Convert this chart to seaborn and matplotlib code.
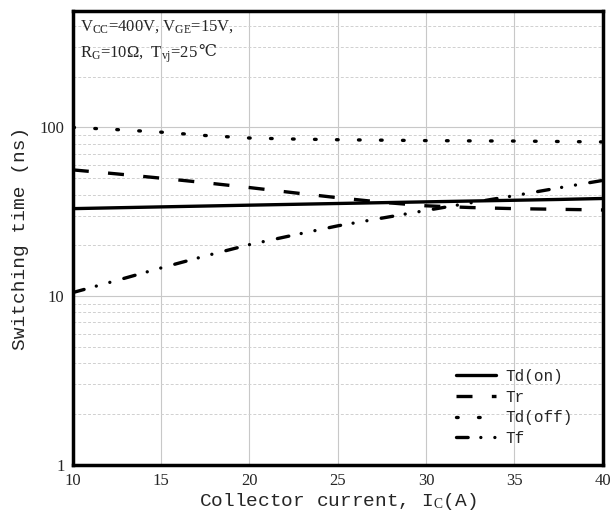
import numpy as np
import pandas as pd
import matplotlib
matplotlib.use("Agg")
import matplotlib.pyplot as plt
from matplotlib.ticker import FixedLocator, LogLocator, NullFormatter
import seaborn as sns

current = [10, 12.5, 15, 17.5, 20, 22.5, 25, 27.5, 30, 32.5, 35, 37.5, 40]
td_on = [33.0, 33.4, 33.8, 34.2, 34.6, 35.0, 35.4, 35.8, 36.2, 36.6, 37.0, 37.4, 37.9]
tr = [56.0, 53.0, 50.0, 47.0, 44.0, 41.0, 38.3, 36.0, 34.3, 33.5, 33.0, 32.7, 32.4]
td_off = [100.0, 97.0, 93.7, 89.5, 86.5, 85.3, 84.5, 84.0, 83.5, 83.2, 83.0, 82.5, 82.0]
tf = [10.5, 12.4, 14.7, 17.3, 20.2, 23.0, 26.1, 29.0, 32.2, 35.7, 39.4, 43.8, 48.5]
series_names = ["Td(on)", "Tr", "Td(off)", "Tf"]
x_ticks = [10, 15, 20, 25, 30, 35, 40]
y_ticks = [1, 10, 100]

df = pd.DataFrame({
    "Ic": current * 4,
    "t": td_on + tr + td_off + tf,
    "series": sum([[n] * len(current) for n in series_names], []),
})

sns.set_style("white")
plt.rcParams["font.family"] = ["Liberation Serif", "DejaVu Serif"]
plt.rcParams["mathtext.fontset"] = "custom"
plt.rcParams["mathtext.rm"] = "Liberation Serif"
plt.rcParams["mathtext.it"] = "Liberation Serif"

fig = plt.figure(figsize=(6.12, 5.2), dpi=100)
ax = fig.add_axes([0.119, 0.106, 0.866, 0.873])

dash_styles = {
    "Td(on)": None,
    "Tr": (4.8, 5.8),
    "Td(off)": (0.5, 6.1),
    "Tf": (3.5, 3.8, 0.01, 4.2, 0.01, 4.35),
}

for name in series_names:
    sub = df[df["series"] == name]
    sns.lineplot(data=sub, x="Ic", y="t", color="black", linewidth=2.4,
                 label=name, ax=ax, legend=False)

for line, name in zip(ax.lines, series_names):
    d = dash_styles[name]
    if d is not None:
        line.set_dashes(d)
    if name in ("Td(off)", "Tf"):
        line.set_dash_capstyle("round")

ax.set_yscale("log")
ax.set_xlim(10, 40)
ax.set_ylim(1, 490)
ax.xaxis.set_major_locator(FixedLocator(x_ticks))
ax.yaxis.set_major_locator(FixedLocator(y_ticks))
ax.yaxis.set_minor_locator(LogLocator(base=10, subs=np.arange(2, 10)))
ax.yaxis.set_minor_formatter(NullFormatter())
ax.set_yticklabels([str(v) for v in y_ticks])
ax.set_xticklabels([str(v) for v in x_ticks])

ax.grid(True, which="major", axis="both", color="#c8c8c8", linewidth=0.8, linestyle="-")
ax.grid(True, which="minor", axis="y", color="#d0d0d0", linewidth=0.7, linestyle=(0, (3, 2)))
ax.set_axisbelow(True)

ax.tick_params(axis="both", which="both", length=0, labelsize=12)
ax.tick_params(axis="x", pad=6)
ax.tick_params(axis="y", pad=6)

for s in ax.spines.values():
    s.set_visible(True)
    s.set_color("black")
    s.set_linewidth(2.5)

mono = ["Liberation Mono", "DejaVu Sans Mono"]
ax.set_xlabel("Collector current, I$_\\mathrm{C}$(A)", fontsize=14, family=mono, labelpad=1)
ax.set_ylabel("Switching time (ns)", fontsize=14, family=mono, labelpad=8)

ax.text(0.013, 0.985, "V$_\\mathrm{CC}$=400V, V$_\\mathrm{GE}$=15V,",
        transform=ax.transAxes, ha="left", va="top", fontsize=12)
t2 = ax.text(0.013, 0.927, "R$_\\mathrm{G}$=10$\\Omega$,  T$_\\mathrm{vj}$=25",
             transform=ax.transAxes, ha="left", va="top", fontsize=12)
ax.annotate("\u2103", xy=(1, 0), xycoords=t2, xytext=(0.5, 3.0), textcoords="offset points",
            ha="left", va="bottom", fontsize=11.5, family=["DejaVu Serif", "DejaVu Sans"])

leg = ax.legend(loc="lower right", frameon=False,
                prop={"family": mono, "size": 11.5}, handlelength=2.5,
                labelspacing=0.35, borderaxespad=0, handletextpad=0.6,
                bbox_to_anchor=(0.955, 0.028))

fig.savefig("out.png", dpi=100)
